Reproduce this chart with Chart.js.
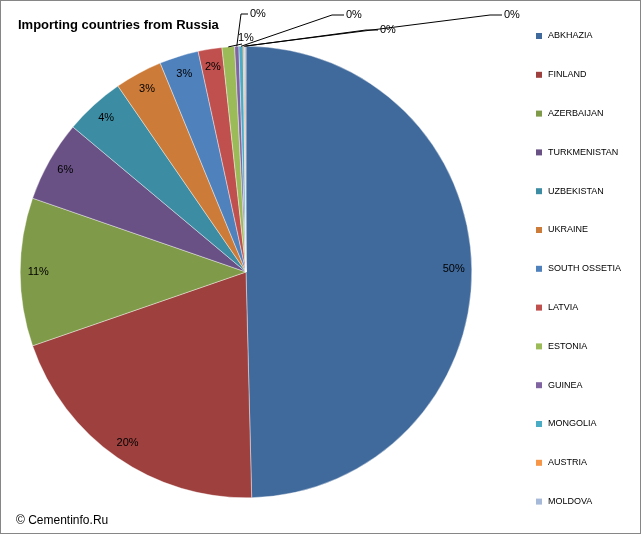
<!DOCTYPE html>
<html><head><meta charset="utf-8">
<script src="https://cdn.jsdelivr.net/npm/chart.js@4"></script>
<style>
html,body{margin:0;padding:0;background:#fff}
canvas{display:block}
</style></head>
<body><canvas id="c" width="641" height="534"></canvas>
<script>
const countries = ["ABKHAZIA","FINLAND","AZERBAIJAN","TURKMENISTAN","UZBEKISTAN","UKRAINE","SOUTH OSSETIA","LATVIA","ESTONIA","GUINEA","MONGOLIA","AUSTRIA","MOLDOVA"];
const shares = [49.6,20.1,10.6,5.8,4.3,3.4,2.8,1.7,0.9,0.3,0.3,0.1,0.1];
const colors = ["#416A9C","#9E413E","#7F9A48","#695185","#3C8DA3","#CC7B38","#4F81BD","#C0504D","#9BBB59","#8064A2","#4BACC6","#F79646","#A7B9D9"];
// callout label spots for the tiny slices (index -> text anchor)
const callouts = {8:[238,38],9:[250,14],10:[346,15],11:[504,15],12:[380,30]};

const decor = {
  id: "decor",
  afterDraw(chart) {
    const ctx = chart.ctx;
    ctx.save();
    ctx.strokeStyle = "#868686"; ctx.lineWidth = 1;
    ctx.strokeRect(0.5, 0.5, 640, 533);
    ctx.fillStyle = "#000";
    ctx.font = "bold 13px 'Liberation Sans', Arial";
    ctx.textBaseline = "middle";
    ctx.fillText("Importing countries from Russia", 18, 25);
    ctx.font = "12px 'Liberation Sans', Arial";
    ctx.fillText("\u00a9 Cementinfo.Ru", 16, 521);
    // legend
    ctx.font = "9px 'Liberation Sans', Arial";
    countries.forEach((c, i) => {
      const y = 36 + i * 38.8;
      ctx.fillStyle = colors[i];
      ctx.fillRect(536, y - 3, 6, 6);
      ctx.fillStyle = "#000";
      ctx.fillText(c, 548, y);
    });
    // slice labels
    const total = shares.reduce((a, b) => a + b, 0);
    const meta = chart.getDatasetMeta(0);
    ctx.font = "11px 'Liberation Sans', Arial";
    meta.data.forEach((arc, i) => {
      const txt = Math.round(shares[i] / total * 100) + "%";
      const mid = (arc.startAngle + arc.endAngle) / 2;
      const r = arc.outerRadius;
      ctx.fillStyle = "#000";
      if (callouts[i]) {
        const [tx, ty] = callouts[i];
        const ex = arc.x + Math.cos(mid) * r, ey = arc.y + Math.sin(mid) * r;
        ctx.strokeStyle = "#000"; ctx.lineWidth = 1;
        ctx.beginPath(); ctx.moveTo(ex, ey);
        if (i === 8) { ctx.lineTo(tx + 4, ty + 6); }
        else if (i === 9) { ctx.lineTo(tx - 9, ty); ctx.lineTo(tx - 2, ty); }
        else { ctx.lineTo(tx - 14, ty); ctx.lineTo(tx - 2, ty); }
        ctx.stroke();
        ctx.textAlign = "left";
        ctx.fillText(txt, tx, ty);
      } else {
        ctx.textAlign = "center";
        ctx.fillText(txt, arc.x + Math.cos(mid) * r * 0.92, arc.y + Math.sin(mid) * r * 0.92);
      }
    });
    ctx.restore();
  }
};

new Chart(document.getElementById("c"), {
  type: "pie",
  data: { labels: countries, datasets: [{ data: shares, backgroundColor: colors, borderColor: "#fff", borderWidth: 0.4 }] },
  options: {
    responsive: false, animation: false,
    layout: { padding: { top: 46, bottom: 36, left: 20, right: 169 } },
    plugins: { legend: { display: false }, tooltip: { enabled: false } }
  },
  plugins: [decor]
});
</script></body></html>
